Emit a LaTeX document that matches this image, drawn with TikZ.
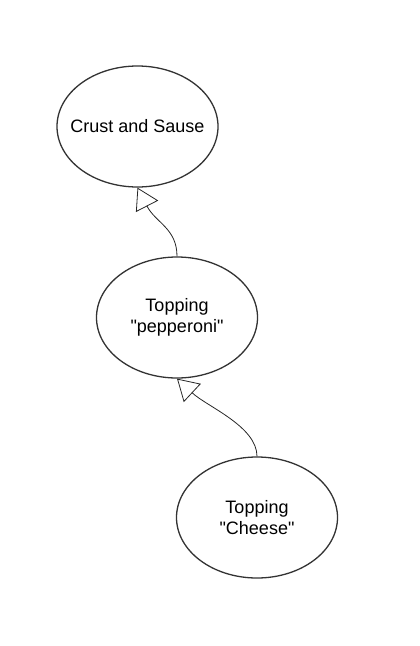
\documentclass[tikz,border=0pt]{standalone}
\usepackage{fontspec}
\setmainfont{Liberation Sans}
\usetikzlibrary{shapes.geometric,arrows.meta}
\tikzset{
    layer/.style={
        ellipse, draw=black!80, line width=1.3pt, fill=white,
        minimum width=161pt, minimum height=121pt,
        inner xsep=-20pt, inner ysep=0pt,
        align=center, font=\fontsize{18}{21}\selectfont
    },
    inherits/.style={
        draw=black!85, line width=0.8pt,
        -{Triangle[open, length=21pt, width=25pt, line width=0.8pt]}
    },
}
\begin{document}
\begin{tikzpicture}[x=1pt, y=-1pt]
    \useasboundingbox (0,0) rectangle (420,646);
    \node[layer] (crust) at (137.5,126.5) {Crust and Sause};
    \node[layer] (pepperoni) at (177,317.5) {Topping\\\textquotedbl pepperoni\textquotedbl};
    \node[layer] (cheese) at (257,517.5) {Topping\\\textquotedbl Cheese\textquotedbl};
    \draw[inherits] (pepperoni.north) .. controls +(0,-28) and +(18,35) .. (crust.south);
    \draw[inherits] (cheese.north) .. controls +(0,-30) and +(30,28) .. (pepperoni.south);
\end{tikzpicture}
\end{document}
